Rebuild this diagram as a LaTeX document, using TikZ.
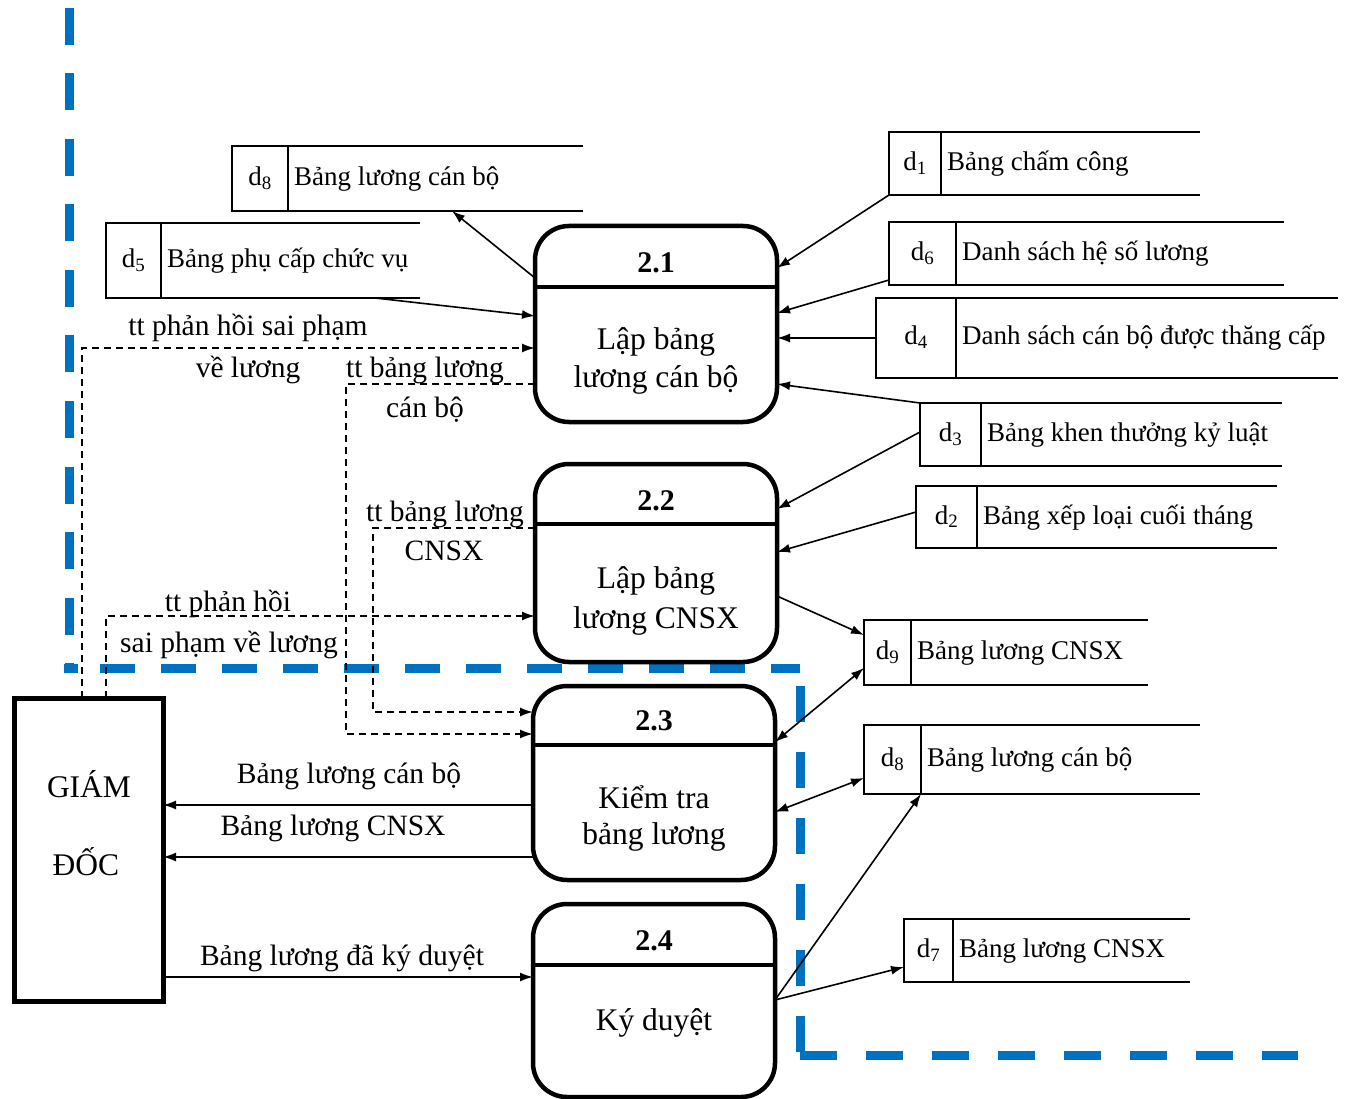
\documentclass[tikz,border=0pt]{standalone}
\usepackage{fontspec}
\setmainfont{Liberation Serif}
\usetikzlibrary{arrows.meta,calc}
\definecolor{frameblue}{RGB}{0,112,192}

% data store: name, x, y, width, height, divider offset, index, title
\newcommand{\dstore}[8]{%
  \node[sbox, minimum width=#4pt, minimum height=#5pt] (#1) at (#2,#3) {};
  \draw[sline] (#1.north east) -- (#1.north west) -- (#1.south west) -- (#1.south east);
  \draw[sline] ($(#1.north west)+(#6,0)$) -- ($(#1.south west)+(#6,0)$);
  \node[stxt] (#1-id) at ($(#1.west)+(#6/2,0)$) {d\textsubscript{#7}};
  \node[stxt, anchor=west] (#1-t) at ($(#1.west)+(#6+6,0)$) {#8};
}

\begin{document}
\begin{tikzpicture}[x=1pt, y=-1pt,
  proc/.style={draw, line width=4.5pt, rounded corners=34pt, inner sep=0, outer sep=0, anchor=north west, minimum width=242pt},
  ent/.style={draw, line width=5pt, inner sep=0, outer sep=0, anchor=north west},
  sbox/.style={inner sep=0, outer sep=0, anchor=north west},
  sline/.style={line width=2pt},
  divline/.style={line width=4.5pt},
  stxt/.style={font=\fontsize{27}{30}\selectfont, inner sep=0, text height=20pt, text depth=6pt},
  ptitle/.style={font=\bfseries\fontsize{30}{34}\selectfont, inner sep=0, text height=22pt, text depth=6pt},
  ptxt/.style={font=\fontsize{31.5}{36}\selectfont, inner sep=0, text height=23pt, text depth=7pt},
  lbl/.style={font=\fontsize{29.5}{34}\selectfont, inner sep=0, text height=22pt, text depth=7pt},
  flow/.style={line width=1.6pt, -{Latex[length=13pt,width=9pt]}},
  both/.style={line width=1.6pt, {Latex[length=13pt,width=9pt]}-{Latex[length=13pt,width=9pt]}},
  tflow/.style={line width=1.8pt, dash pattern=on 7pt off 5pt, -{Latex[length=13pt,width=9pt]}},
  frame/.style={frameblue, line width=9pt}
]
\useasboundingbox (0,0) rectangle (1350,1099);

% blue boundary
\draw[frame, dash pattern=on 37pt off 28.5pt] (69,8) -- (69,668);
\draw[frame] (64,668) -- (78,668);
\draw[frame, dash pattern=on 35pt off 26pt] (100,668) -- (800,668);
\draw[frame, dash pattern=on 36pt off 30pt] (800,686) -- (800,1055);
\draw[frame, dash pattern=on 37pt off 29pt] (800,1055) -- (1298,1055);

% processes
\node[proc, minimum height=196pt] (p21) at (535,226) {};
\node[proc, minimum height=198pt] (p22) at (535,464) {};
\node[proc, minimum height=194pt] (p23) at (533,686) {};
\node[proc, minimum height=193pt] (p24) at (533,904) {};
\draw[divline] ($(p21.north west)+(0,61)$) -- ($(p21.north east)+(0,61)$);
\draw[divline] ($(p22.north west)+(0,60)$) -- ($(p22.north east)+(0,60)$);
\draw[divline] ($(p23.north west)+(0,59)$) -- ($(p23.north east)+(0,59)$);
\draw[divline] ($(p24.north west)+(0,61)$) -- ($(p24.north east)+(0,61)$);

\node[ptitle] (p21-n) at ($(p21.north)+(0,39)$) {2.1};
\node[ptxt] (p21-a) at ($(p21.north)+(0,116)$) {Lập bảng};
\node[ptxt] (p21-b) at ($(p21.north)+(0,154)$) {lương cán bộ};
\node[ptitle] (p22-n) at ($(p22.north)+(0,38)$) {2.2};
\node[ptxt] (p22-a) at ($(p22.north)+(0,116)$) {Lập bảng};
\node[ptxt] (p22-b) at ($(p22.north)+(0,156)$) {lương CNSX};
\node[ptitle] (p23-n) at ($(p23.north)+(0,36)$) {2.3};
\node[ptxt] (p23-a) at ($(p23.north)+(0,114)$) {Kiểm tra};
\node[ptxt] (p23-b) at ($(p23.north)+(0,150)$) {bảng lương};
\node[ptitle] (p24-n) at ($(p24.north)+(0,38)$) {2.4};
\node[ptxt] (p24-a) at ($(p24.north)+(0,118)$) {Ký duyệt};

% external entity
\node[ent, minimum width=149pt, minimum height=303pt] (gd) at (14,698) {};
\node[ptxt] (gd-a) at (89,789) {GIÁM};
\node[ptxt] (gd-b) at (86,867) {ĐỐC};

% data stores
\dstore{s8a}{232}{146}{351}{65}{56}{8}{Bảng lương cán bộ}
\dstore{s5}{106}{223}{314}{75}{55}{5}{Bảng phụ cấp chức vụ}
\dstore{s1}{889}{132}{311}{63}{52}{1}{Bảng chấm công}
\dstore{s6}{889}{222}{395}{63}{67}{6}{Danh sách hệ số lương}
\dstore{s4}{876}{298}{462}{80}{80}{4}{Danh sách cán bộ được thăng cấp}
\dstore{s3}{920}{403}{362}{63}{61}{3}{Bảng khen thưởng kỷ luật}
\dstore{s2}{916}{486}{361}{62}{61}{2}{Bảng xếp loại cuối tháng}
\dstore{s9}{864}{620}{284}{65}{47}{9}{Bảng lương CNSX}
\dstore{s8b}{864}{725}{336}{69}{57}{8}{Bảng lương cán bộ}
\dstore{s7}{904}{919}{286}{63}{49}{7}{Bảng lương CNSX}

% solid flows
\draw[flow] ($(p21.north west)+(0,52)$) -- ($(s8a.south west)+(220,0)$);
\draw[flow] ($(s5.south west)+(269,0)$) -- ($(p21.north west)+(0,90)$);
\draw[flow] (s1.south west) -- ($(p21.north east)+(0,42)$);
\draw[flow] ($(s6.south west)+(0,-5)$) -- ($(p21.north east)+(0,87)$);
\draw[flow] (s4.west) -- (s4.west -| p21.east);
\draw[flow] (s3.north west) -- ($(p21.north east)+(0,158)$);
\draw[flow] ($(s3.north west)+(0,29)$) -- ($(p22.north east)+(0,45)$);
\draw[flow] ($(s2.west)+(0,-5)$) -- ($(p22.north east)+(0,88)$);
\draw[flow] ($(p22.north east)+(0,132)$) -- ($(s9.north west)+(0,15)$);
\draw[both] ($(p23.north east)+(0,56)$) -- ($(s9.north west)+(0,48)$);
\draw[both] ($(p23.north east)+(0,126)$) -- ($(s8b.north west)+(0,53)$);
\coordinate (p24out) at ($(p24.north east)+(0,96)$);
\draw[flow] (p24out) -- ($(s8b.south west)+(57,0)$);
\draw[flow] (p24out) -- ($(s7.north west)+(0,48)$);

\coordinate (p23o1) at ($(p23.north west)+(0,119)$);
\coordinate (p23o2) at ($(p23.north west)+(0,171)$);
\coordinate (p24in) at ($(p24.north west)+(0,73)$);
\draw[flow] (p23o1) -- (p23o1 -| gd.east);
\draw[flow] (p23o2) -- (p23o2 -| gd.east);
\draw[flow] (p24in -| gd.east) -- (p24in);

% dashed information flows
\draw[tflow] ($(gd.north west)+(68,0)$) |- ($(p21.north west)+(0,122)$);
\coordinate (p23t1) at ($(p23.north west)+(0,48)$);
\draw[tflow] ($(p21.north west)+(0,158)$) -| ($(p23t1)+(-187,0)$) -- (p23t1);
\coordinate (p23t2) at ($(p23.north west)+(0,26)$);
\draw[tflow] ($(p22.north west)+(0,64)$) -| ($(p23t2)+(-160,0)$) -- (p23t2);
\draw[tflow] ($(gd.north west)+(92,0)$) |- ($(p22.north west)+(0,152)$);

% flow labels
\node[lbl] (l1a) at (248,328) {tt phản hồi sai phạm};
\node[lbl] (l1b) at (248,370) {về lương};
\node[lbl] (l2a) at (425,370) {tt bảng lương};
\node[lbl] (l2b) at (425,410) {cán bộ};
\node[lbl] (l3a) at (445,514) {tt bảng lương};
\node[lbl] (l3b) at (444,553) {CNSX};
\node[lbl] (l4a) at (228,604) {tt phản hồi};
\node[lbl] (l4b) at (229,645) {sai phạm về lương};
\node[lbl] (l5) at (349,776) {Bảng lương cán bộ};
\node[lbl] (l6) at (333,828) {Bảng lương CNSX};
\node[lbl] (l7) at (342,958) {Bảng lương đã ký duyệt};
\end{tikzpicture}
\end{document}
